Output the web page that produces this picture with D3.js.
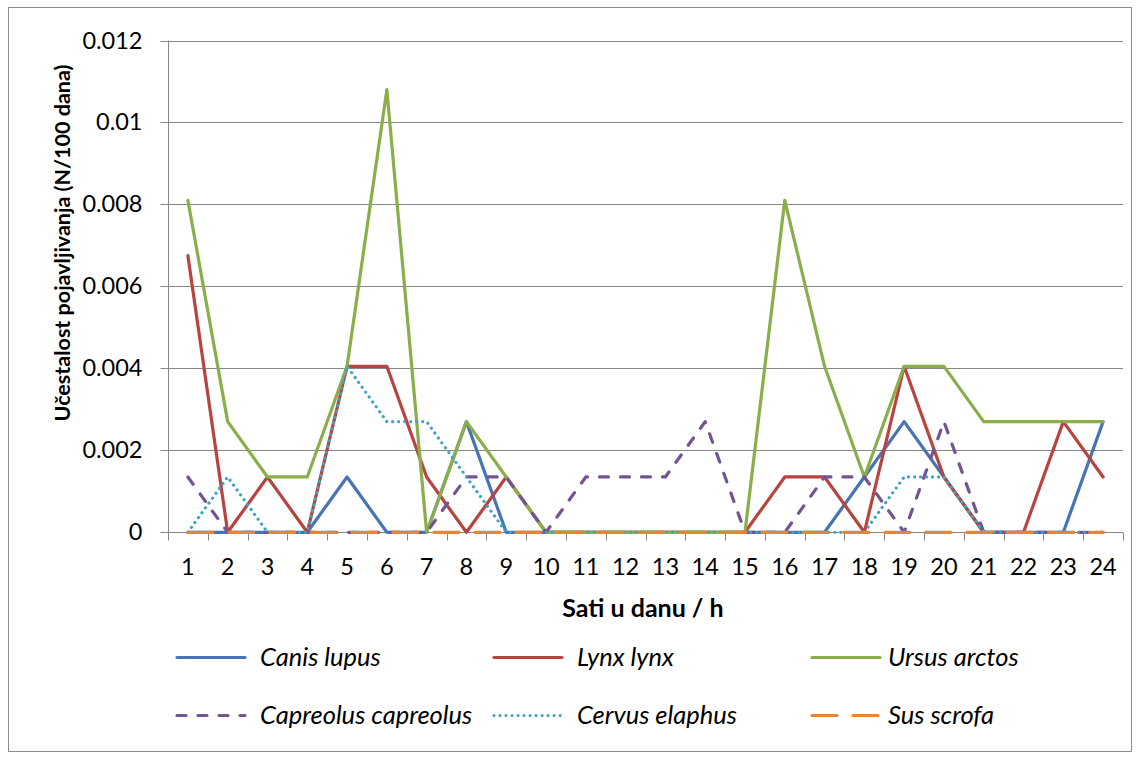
<!DOCTYPE html>
<html>
<head>
<meta charset="utf-8">
<script src="https://cdn.jsdelivr.net/npm/d3@7"></script>
<style>
  html, body { margin: 0; padding: 0; background: #fff; }
  svg { display: block; font-family: Lato, "Open Sans", sans-serif; }
</style>
</head>
<body>
<svg id="chart" width="1140" height="759"></svg>
<script>
const hours = ["1","2","3","4","5","6","7","8","9","10","11","12","13","14","15","16","17","18","19","20","21","22","23","24"];
const yTickValues = [0, 0.002, 0.004, 0.006, 0.008, 0.01, 0.012];
const yTickLabels = ["0", "0.002", "0.004", "0.006", "0.008", "0.01", "0.012"];

const canisLupus        = [0, 0, 0, 0, 0.00135, 0, 0, 0.0027, 0, 0, 0, 0, 0, 0, 0, 0, 0, 0.00135, 0.0027, 0.00135, 0, 0, 0, 0.0027];
const lynxLynx          = [0.00675, 0, 0.00135, 0, 0.00405, 0.00405, 0.00135, 0, 0.00135, 0, 0, 0, 0, 0, 0, 0.00135, 0.00135, 0, 0.00405, 0.00135, 0, 0, 0.0027, 0.00135];
const ursusArctos       = [0.0081, 0.0027, 0.00135, 0.00135, 0.00405, 0.0108, 0, 0.0027, 0.00135, 0, 0, 0, 0, 0, 0, 0.0081, 0.00405, 0.00135, 0.00405, 0.00405, 0.0027, 0.0027, 0.0027, 0.0027];
const capreolusCapreolus= [0.00135, 0, 0, 0, 0, 0, 0, 0.00135, 0.00135, 0, 0.00135, 0.00135, 0.00135, 0.0027, 0, 0, 0.00135, 0.00135, 0, 0.0027, 0, 0, 0, 0];
const cervusElaphus     = [0, 0.00135, 0, 0, 0.00405, 0.0027, 0.0027, 0.00135, 0, 0, 0, 0, 0, 0, 0, 0, 0, 0, 0.00135, 0.00135, 0, 0, 0, 0];
const susScrofa         = [0, 0, 0, 0, 0, 0, 0, 0, 0, 0, 0, 0, 0, 0, 0, 0, 0, 0, 0, 0, 0, 0, 0, 0];

const seriesNames = ["Canis lupus", "Lynx lynx", "Ursus arctos", "Capreolus capreolus", "Cervus elaphus", "Sus scrofa"];
const seriesValues = [canisLupus, lynxLynx, ursusArctos, capreolusCapreolus, cervusElaphus, susScrofa];
const seriesColors = ["#4674B4", "#B8433F", "#8BAD4A", "#735493", "#3FA3C0", "#E4853A"];
const seriesDash = [null, null, null, "9,12", "0.01,6", "25,16"];

const yTitle = "Učestalost pojavljivanja (N/100 dana)";
const xTitle = "Sati u danu / h";

const svg = d3.select("#chart");

// outer border
svg.append("rect")
  .attr("x", 8.5).attr("y", 7.5).attr("width", 1123).attr("height", 744)
  .attr("fill", "#fff").attr("stroke", "#8C8C8C").attr("stroke-width", 1);

const plotLeft = 168, plotRight = 1123, plotTop = 40.5, plotBottom = 532.3;

const x = d3.scaleBand().domain(hours).range([plotLeft, plotRight]).padding(0);
const y = d3.scaleLinear().domain([0, 0.012]).range([plotBottom, plotTop]);
const cx = h => x(h) + x.bandwidth() / 2;

const gridColor = "#878787";

// gridlines
svg.append("g").selectAll("line")
  .data(yTickValues.filter(v => v > 0))
  .join("line")
  .attr("x1", plotLeft).attr("x2", plotRight)
  .attr("y1", d => Math.round(y(d)) + 0.5).attr("y2", d => Math.round(y(d)) + 0.5)
  .attr("stroke", gridColor).attr("stroke-width", 1);

// y axis
const yAxis = d3.axisLeft(y)
  .tickValues(yTickValues)
  .tickSize(8)
  .tickPadding(18)
  .tickFormat((d, i) => yTickLabels[i]);
const gy = svg.append("g").attr("transform", `translate(${plotLeft + 0.5},0)`).call(yAxis);
gy.select(".domain").attr("stroke", gridColor).attr("d", `M0,${plotTop}V${plotBottom}`);
gy.selectAll(".tick line").attr("stroke", gridColor);
gy.selectAll(".tick").attr("transform", d => `translate(0,${Math.round(y(d)) + 0.5})`);
gy.selectAll(".tick text").attr("fill", "#000").style("font-size", "23.5px").style("font-family", "Lato, sans-serif");

// x axis line
const zeroY = Math.round(y(0)) + 0.5;
svg.append("line")
  .attr("x1", plotLeft).attr("x2", plotRight)
  .attr("y1", zeroY).attr("y2", zeroY)
  .attr("stroke", gridColor).attr("stroke-width", 1);

// x ticks at band boundaries
const boundaries = hours.map(h => x(h)).concat([plotRight]);
svg.append("g").selectAll("line")
  .data(boundaries)
  .join("line")
  .attr("x1", d => Math.round(d) + 0.5).attr("x2", d => Math.round(d) + 0.5)
  .attr("y1", zeroY).attr("y2", zeroY + 8)
  .attr("stroke", gridColor).attr("stroke-width", 1);

// x tick labels
svg.append("g").selectAll("text")
  .data(hours)
  .join("text")
  .attr("x", d => cx(d)).attr("y", 575)
  .attr("text-anchor", "middle")
  .style("font-size", "23.5px")
  .text(d => d);

// series lines
const line = d3.line().x((d, i) => cx(hours[i])).y(d => y(d));
seriesValues.forEach((vals, i) => {
  svg.append("path")
    .datum(vals)
    .attr("d", line)
    .attr("fill", "none")
    .attr("stroke", seriesColors[i])
    .attr("stroke-width", 3.2)
    .attr("stroke-linejoin", "round")
    .attr("stroke-linecap", "round")
    .attr("stroke-dasharray", seriesDash[i]);
});

// axis titles
svg.append("text")
  .attr("transform", "translate(70,243) rotate(-90)")
  .attr("text-anchor", "middle")
  .style("font-size", "21.5px").style("font-weight", "bold")
  .text(yTitle);

svg.append("text")
  .attr("x", 643).attr("y", 617)
  .attr("text-anchor", "middle")
  .style("font-size", "25px").style("font-weight", "bold")
  .text(xTitle);

// legend
const legSampleX = [177, 494, 812];
const legTextX = [260, 577, 888];
const legRowY = [657.5, 715.5];
seriesNames.forEach((name, i) => {
  const col = i % 3, row = Math.floor(i / 3);
  const g = svg.append("g");
  g.append("line")
    .attr("x1", legSampleX[col]).attr("x2", legSampleX[col] + 68)
    .attr("y1", legRowY[row]).attr("y2", legRowY[row])
    .attr("stroke", seriesColors[i]).attr("stroke-width", 3.2)
    .attr("stroke-linecap", "round")
    .attr("stroke-dasharray", seriesDash[i]);
  g.append("text")
    .attr("x", legTextX[col]).attr("y", legRowY[row] + 8)
    .style("font-size", "25.5px").style("font-style", "italic")
    .text(name);
});
</script>
</body>
</html>
